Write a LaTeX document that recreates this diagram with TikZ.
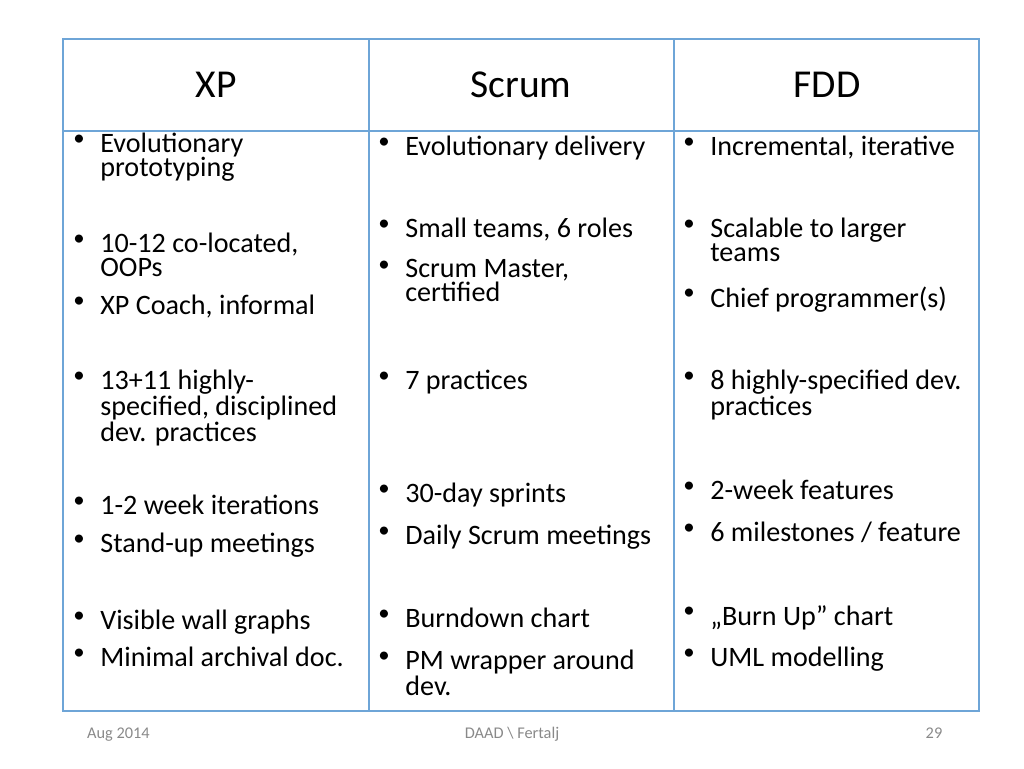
\documentclass[tikz,border=0pt]{standalone}
\usepackage{fontspec}
\setmainfont{Carlito}
\definecolor{gridblue}{RGB}{110,165,215}
\definecolor{footgray}{RGB}{137,137,137}
\tikzstyle{head} = [font=\fontsize{22.5}{22.5}\selectfont]
\tikzstyle{item} = [anchor=north west, inner sep=0pt, align=left, font=\fontsize{16}{13.6}\selectfont]
\tikzstyle{dot} = [anchor=north west, inner sep=0pt, font=\fontsize{13}{13}\selectfont]
\tikzstyle{foot} = [text=footgray, anchor=base, font=\fontsize{9.3}{10}\selectfont]
\newcommand{\itm}[4]{%
  \node (#1) [item] at (#2,#3-13) {#4};
  \node (#1b) [dot] at (#2-27,#3-11) {\textbullet};}

\begin{document}
\begin{tikzpicture}[x=0.02cm, y=-0.02cm]
  \useasboundingbox (0,0) rectangle (1024,768);
  % table frame
  \draw [gridblue, thick] (63,39) rectangle (979,711);
  \draw [gridblue, thick] (369,39) -- (369,711);
  \draw [gridblue, thick] (674,39) -- (674,711);
  \draw [gridblue, thick] (63,131) -- (979,131);
  \node (XP) [head] at (216,85) {XP};
  \node (Scrum) [head] at (521,85) {Scrum};
  \node (FDD) [head] at (827,85) {FDD};
  % XP column
  \itm{xp1}{100}{146}{Evolutionary\\prototyping}
  \itm{xp2}{100}{246}{10-12 co-located,\\OOPs}
  \itm{xp3}{100}{308}{XP Coach, informal}
  \itm{xp4}{100}{383}{13+11 highly-\\specified, disciplined\\dev. practices}
  \itm{xp5}{100}{508}{1-2 week iterations}
  \itm{xp6}{100}{546}{Stand-up meetings}
  \itm{xp7}{100}{623}{Visible wall graphs}
  \itm{xp8}{100}{660}{Minimal archival doc.}
  % Scrum column
  \itm{sc1}{405}{149}{Evolutionary delivery}
  \itm{sc2}{405}{231}{Small teams, 6 roles}
  \itm{sc3}{405}{272}{Scrum Master,\\certified}
  \itm{sc4}{405}{383}{7 practices}
  \itm{sc5}{405}{496}{30-day sprints}
  \itm{sc6}{405}{538}{Daily Scrum meetings}
  \itm{sc7}{405}{621}{Burndown chart}
  \itm{sc8}{405}{663}{PM wrapper around\\dev.}
  % FDD column
  \itm{fd1}{710}{149}{Incremental, iterative}
  \itm{fd2}{710}{231}{Scalable to larger\\teams}
  \itm{fd3}{710}{300}{Chief programmer(s)}
  \itm{fd4}{710}{383}{8 highly-specified dev.\\practices}
  \itm{fd5}{710}{493}{2-week features}
  \itm{fd6}{710}{535}{6 milestones / feature}
  \itm{fd7}{710}{618}{„Burn Up” chart}
  \itm{fd8}{710}{660}{UML modelling}
  % footer
  \node (date) [foot, anchor=base west] at (81,738) {Aug 2014};
  \node (author) [foot] at (512,738) {DAAD \textbackslash{} Fertalj};
  \node (page) [foot] at (934,738) {29};
\end{tikzpicture}
\end{document}
